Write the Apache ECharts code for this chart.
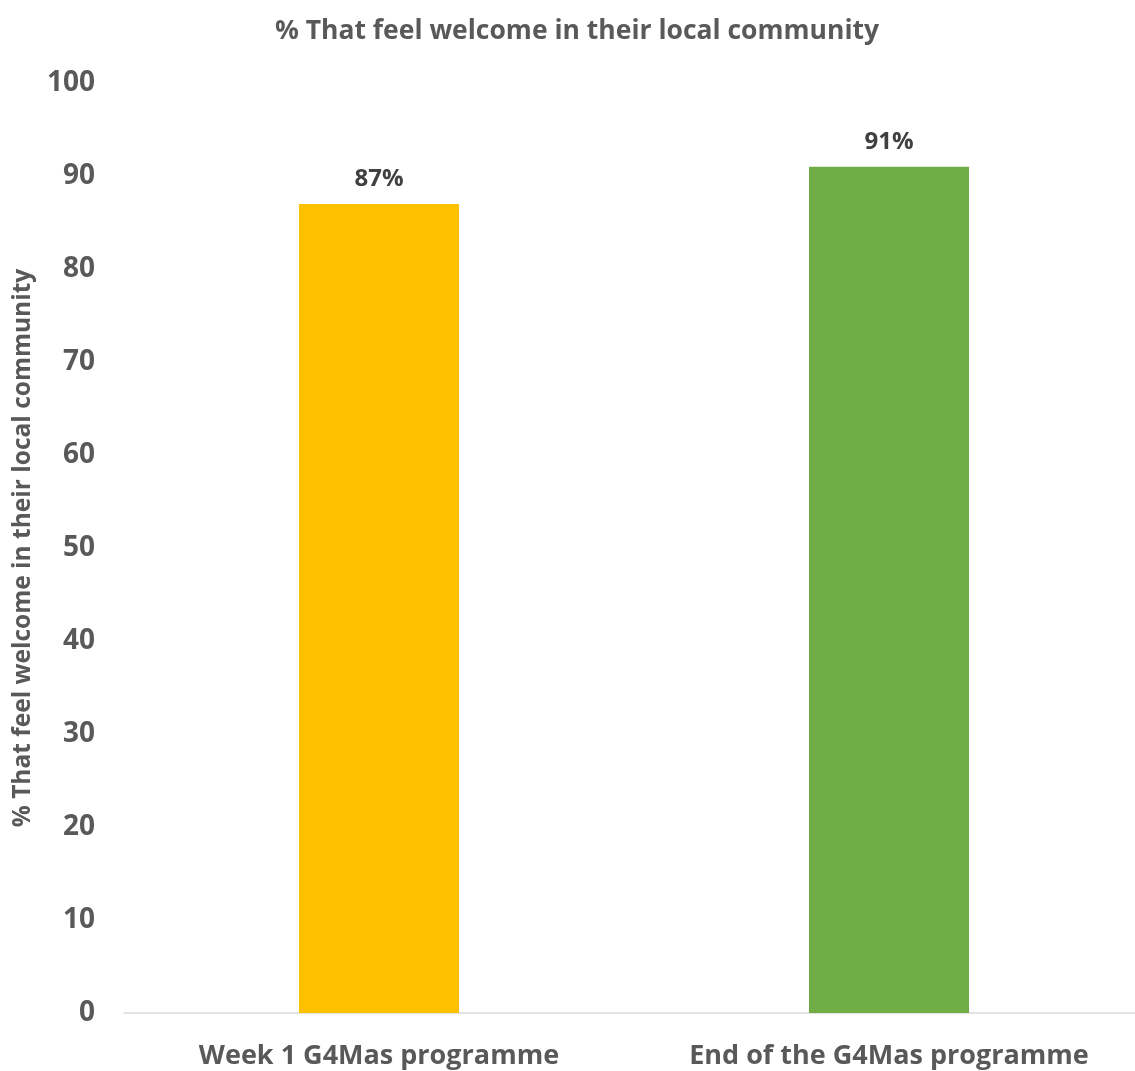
<!DOCTYPE html>
<html>
<head>
<meta charset="utf-8">
<script src="https://cdn.jsdelivr.net/npm/echarts@6/dist/echarts.min.js"></script>
<style>
  html, body { margin: 0; padding: 0; background: #fff; }
  #chart { width: 1135px; height: 1071px; }
</style>
</head>
<body>
<div id="chart"></div>
<script>
const categories = ['Week 1 G4Mas programme', 'End of the G4Mas programme']
const values = [87, 91]
const barColors = ['#FFC000', '#70AD47']
const titleText = '% That feel welcome in their local community'

const font = '"Open Sans", Lato, sans-serif'
const chart = echarts.init(document.getElementById('chart'))

chart.setOption({
  animation: false,
  title: {
    text: titleText,
    left: 572, top: 13, textAlign: 'center',
    textStyle: { fontFamily: font, fontSize: 26.5, fontWeight: 'bold', color: '#595959' }
  },
  // the plot runs a little past the right edge, as in the original
  grid: { left: 124, top: 83, width: 1020, height: 930, outerBoundsMode: 'none' },
  xAxis: {
    type: 'category', data: categories,
    axisLine: { lineStyle: { color: '#D9D9D9', width: 1.5 } },
    axisTick: { show: false },
    axisLabel: { interval: 0, margin: 30, fontFamily: font, fontSize: 27, fontWeight: 'bold', color: '#595959' }
  },
  yAxis: {
    type: 'value', min: 0, max: 100, interval: 10,
    name: titleText, nameLocation: 'middle', nameGap: 88,
    nameTextStyle: { fontFamily: font, fontSize: 24.5, fontWeight: 'bold', color: '#595959' },
    axisLine: { show: false },
    axisTick: { show: false },
    splitLine: { show: false },
    axisLabel: { margin: 29, fontFamily: font, fontSize: 28, fontWeight: 'bold', color: '#595959' }
  },
  series: [{
    type: 'bar', barWidth: 160,
    data: values.map((v, i) => ({ value: v, itemStyle: { color: barColors[i] } })),
    label: {
      show: true, position: 'top', distance: 13, formatter: '{c}%',
      fontFamily: font, fontSize: 24, fontWeight: 'bold', color: '#404040'
    }
  }]
})
</script>
</body>
</html>
